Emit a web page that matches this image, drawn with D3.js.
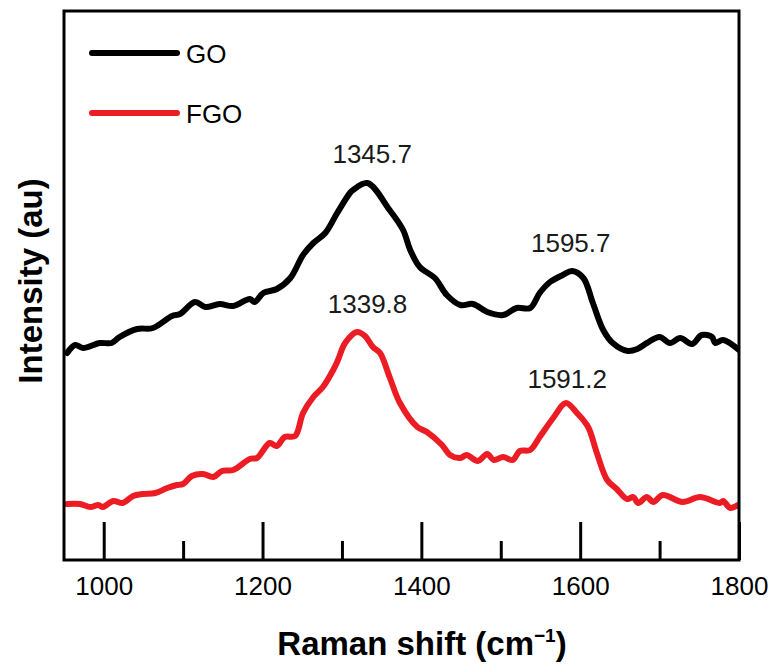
<!DOCTYPE html>
<html>
<head>
<meta charset="utf-8">
<script src="https://cdn.jsdelivr.net/npm/d3@7/dist/d3.min.js"></script>
<style>
  html, body { margin: 0; padding: 0; background: #fff; }
  svg { display: block; font-family: "Liberation Sans", Arial, sans-serif; }
</style>
</head>
<body>
<svg id="chart" width="780" height="672"></svg>
<script>
// ---- Data (Raman shift cm^-1, intensity au) ----
const goShift = [954,964,974,995,1010,1020,1042,1062,1086,1096,1115,1128,1146,1163,1184,1190,1201,1218,1235,1251,1264,1279,1294,1310,1314,1332,1360,1377,1386,1398,1417,1432,1449,1465,1483,1503,1520,1537,1549,1562,1578,1590,1604,1616,1629,1641,1660,1672,1684,1700,1713,1726,1741,1753,1766,1770,1780,1800];
const goIntensity = [207,215,212,217,217,223,231,232,244,246,258,253,256,254,261,258,267,271,282,305,317,327,347,367,370,377,350,330,310,293,282,265,255,256,248,245,252,252,267,278,285,289,282,257,230,217,209,211,217,223,217,222,216,225,223,217,220,210];

const fgoShift = [954,970,983,993,999,1012,1024,1037,1049,1065,1080,1092,1100,1111,1125,1138,1149,1163,1184,1193,1209,1218,1228,1241,1251,1264,1276,1289,1295,1304,1319,1329,1339,1348,1360,1373,1395,1407,1426,1436,1449,1457,1471,1483,1491,1503,1515,1524,1537,1549,1566,1582,1596,1610,1621,1634,1646,1659,1667,1673,1684,1692,1704,1729,1751,1776,1780,1789,1799];
const fgoIntensity = [56,56,53,55,53,59,57,64,66,67,72,75,76,84,86,83,89,90,101,102,117,114,123,124,147,163,173,190,200,217,228,224,213,207,183,157,133,128,115,105,102,105,99,106,100,103,100,109,110,123,142,157,147,133,107,80,71,61,63,57,63,58,65,58,63,57,59,52,55];

const seriesNames = ["GO", "FGO"];
const seriesColors = ["#000000", "#ec1c24"];
const majorTicks = [1000, 1200, 1400, 1600, 1800];
const minorTicks = [1100, 1300, 1500, 1700];
const peakLabels = ["1345.7", "1595.7", "1339.8", "1591.2"];
const peakLabelShift = [1345.7, 1595.7, 1339.8, 1591.2];
const peakLabelIntensity = [397, 308, 247, 172];
const xDomain = [950, 1800];
const yDomain = [0, 549];

// ---- Layout ----
const svg = d3.select("#chart");
const L = 64, R = 739, T = 11, B = 560;
const x = d3.scaleLinear().domain(xDomain).range([L, R]);
const y = d3.scaleLinear().domain(yDomain).range([B, T]);

const series = [
  goShift.map((s, i) => ({x: s, y: goIntensity[i]})),
  fgoShift.map((s, i) => ({x: s, y: fgoIntensity[i]}))
];

const line = d3.line().x(d => x(d.x)).y(d => y(d.y)).curve(d3.curveCatmullRom.alpha(0.5));

svg.append("clipPath").attr("id", "clip")
  .append("rect").attr("x", L).attr("y", T).attr("width", R - L).attr("height", B - T);

svg.append("g").attr("clip-path", "url(#clip)")
  .selectAll("path").data(series).join("path")
  .attr("d", line)
  .attr("fill", "none")
  .attr("stroke", (d, i) => seriesColors[i])
  .attr("stroke-width", 6)
  .attr("stroke-linejoin", "round")
  .attr("stroke-linecap", "round");

// Frame
svg.append("rect").attr("x", L).attr("y", T).attr("width", R - L).attr("height", B - T)
  .attr("fill", "none").attr("stroke", "#000").attr("stroke-width", 3);

// Axes
const axMajor = d3.axisBottom(x).tickValues(majorTicks).tickSize(-38).tickPadding(17).tickFormat(d3.format("d"));
const gMaj = svg.append("g").attr("transform", `translate(0,${B})`).call(axMajor);
gMaj.select(".domain").remove();
gMaj.selectAll(".tick line").attr("stroke", "#000").attr("stroke-width", 3);
gMaj.selectAll(".tick text").attr("font-size", 26).attr("fill", "#000")
  .attr("font-family", "'Liberation Sans', Arial, sans-serif");

const axMinor = d3.axisBottom(x).tickValues(minorTicks).tickSize(-19).tickFormat("");
const gMin = svg.append("g").attr("transform", `translate(0,${B})`).call(axMinor);
gMin.select(".domain").remove();
gMin.selectAll(".tick line").attr("stroke", "#000").attr("stroke-width", 3);

// Peak labels
svg.selectAll("text.peak").data(peakLabels).join("text")
  .attr("class", "peak")
  .attr("x", (d, i) => x(peakLabelShift[i]) - 6)
  .attr("y", (d, i) => y(peakLabelIntensity[i]))
  .attr("text-anchor", "middle")
  .attr("font-size", 26)
  .attr("fill", "#1a1a1a")
  .text(d => d);

// Legend
const lg = svg.append("g");
seriesNames.forEach((n, i) => {
  const yy = 53 + i * 60;
  lg.append("line").attr("x1", 92).attr("x2", 177).attr("y1", yy).attr("y2", yy)
    .attr("stroke", seriesColors[i]).attr("stroke-width", 6).attr("stroke-linecap", "round");
  lg.append("text").attr("x", 186).attr("y", yy + 10).attr("font-size", 26).attr("fill", "#000").text(n);
});

// Axis titles
const xt = svg.append("text").attr("x", 422).attr("y", 655).attr("text-anchor", "middle")
  .attr("font-size", 33).attr("font-weight", "bold").attr("fill", "#000");
xt.append("tspan").text("Raman shift (cm");
xt.append("tspan").attr("font-size", 19).attr("dy", -13).text("\u22121");
xt.append("tspan").attr("dy", 13).text(")");

svg.append("text")
  .attr("transform", `translate(42,281) rotate(-90)`)
  .attr("text-anchor", "middle")
  .attr("font-size", 33).attr("font-weight", "bold").attr("fill", "#000")
  .text("Intensity (au)");
</script>
</body>
</html>
